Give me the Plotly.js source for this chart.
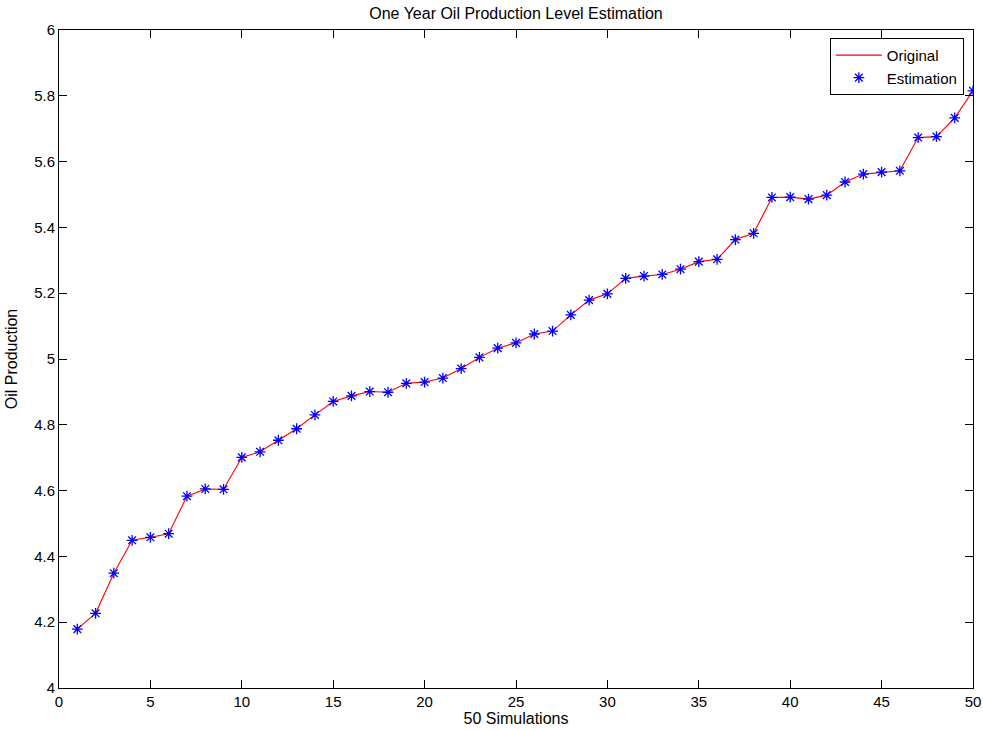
<!DOCTYPE html>
<html>
<head>
<meta charset="utf-8">
<script src="https://cdn.plot.ly/plotly-3.0.1.min.js"></script>
<style>html,body{margin:0;padding:0;background:#fff;}#chart{width:983px;height:730px;}</style>
</head>
<body>
<div id="chart"></div>
<script>
const simulations = Array.from({length: 50}, (_, i) => i + 1);
const original = [
  4.179, 4.227, 4.349, 4.449, 4.458, 4.469, 4.583, 4.605, 4.604, 4.701,
  4.718, 4.753, 4.788, 4.830, 4.871, 4.888, 4.901, 4.899, 4.926, 4.930,
  4.942, 4.971, 5.005, 5.033, 5.049, 5.076, 5.085, 5.134, 5.179, 5.198,
  5.245, 5.252, 5.257, 5.273, 5.296, 5.303, 5.363, 5.382, 5.491, 5.492,
  5.486, 5.498, 5.538, 5.562, 5.568, 5.572, 5.673, 5.676, 5.733, 5.815
];
const estimation = original.slice();
const xTicks = [0, 5, 10, 15, 20, 25, 30, 35, 40, 45, 50];
const yTicks = [4, 4.2, 4.4, 4.6, 4.8, 5, 5.2, 5.4, 5.6, 5.8, 6];
const yTickLabels = ['4', '4.2', '4.4', '4.6', '4.8', '5', '5.2', '5.4', '5.6', '5.8', '6'];

const fam = 'Liberation Sans, Arial, sans-serif';
const tickFont = {family: fam, size: 15, color: '#000'};
const labelFont = {family: fam, size: 16, color: '#000'};

const traces = [
  {x: simulations, y: original, type: 'scatter', mode: 'lines', name: 'Original',
   line: {color: '#ff0000', width: 1.1}},
  {x: simulations, y: estimation, type: 'scatter', mode: 'markers', name: 'Estimation',
   marker: {symbol: 'asterisk-open', size: 9, color: '#0000ff', line: {color: '#0000ff', width: 1.3}}}
];

const axisCommon = {
  showgrid: false, zeroline: false, showline: true, linecolor: '#000', linewidth: 1,
  mirror: 'allticks', ticks: 'inside', ticklen: 8, tickcolor: '#000', tickwidth: 1,
  tickfont: tickFont
};

const layout = {
  width: 983, height: 730,
  margin: {l: 59, r: 10, t: 30, b: 42},
  paper_bgcolor: '#fff', plot_bgcolor: '#fff',
  font: labelFont,
  title: {text: 'One Year Oil Production Level Estimation', font: labelFont,
          x: 0.5, xref: 'paper', xanchor: 'center', y: 0.982, yref: 'container', yanchor: 'middle'},
  xaxis: Object.assign({}, axisCommon, {range: [0, 50], tickvals: xTicks, ticktext: xTicks.map(String),
    title: {text: '50 Simulations', font: labelFont, standoff: 0}}),
  yaxis: Object.assign({}, axisCommon, {range: [4, 6], tickvals: yTicks, ticktext: yTickLabels,
    title: {text: 'Oil Production', font: labelFont, standoff: 12}}),
  showlegend: true,
  legend: {x: 0.990, y: 0.988, xanchor: 'right', yanchor: 'top', bgcolor: '#fff',
    bordercolor: '#000', borderwidth: 1, font: {family: fam, size: 15, color: '#000'},
    tracegroupgap: 0, itemwidth: 46}
};

Plotly.newPlot('chart', traces, layout, {displayModeBar: false, staticPlot: true});
</script>
</body>
</html>
